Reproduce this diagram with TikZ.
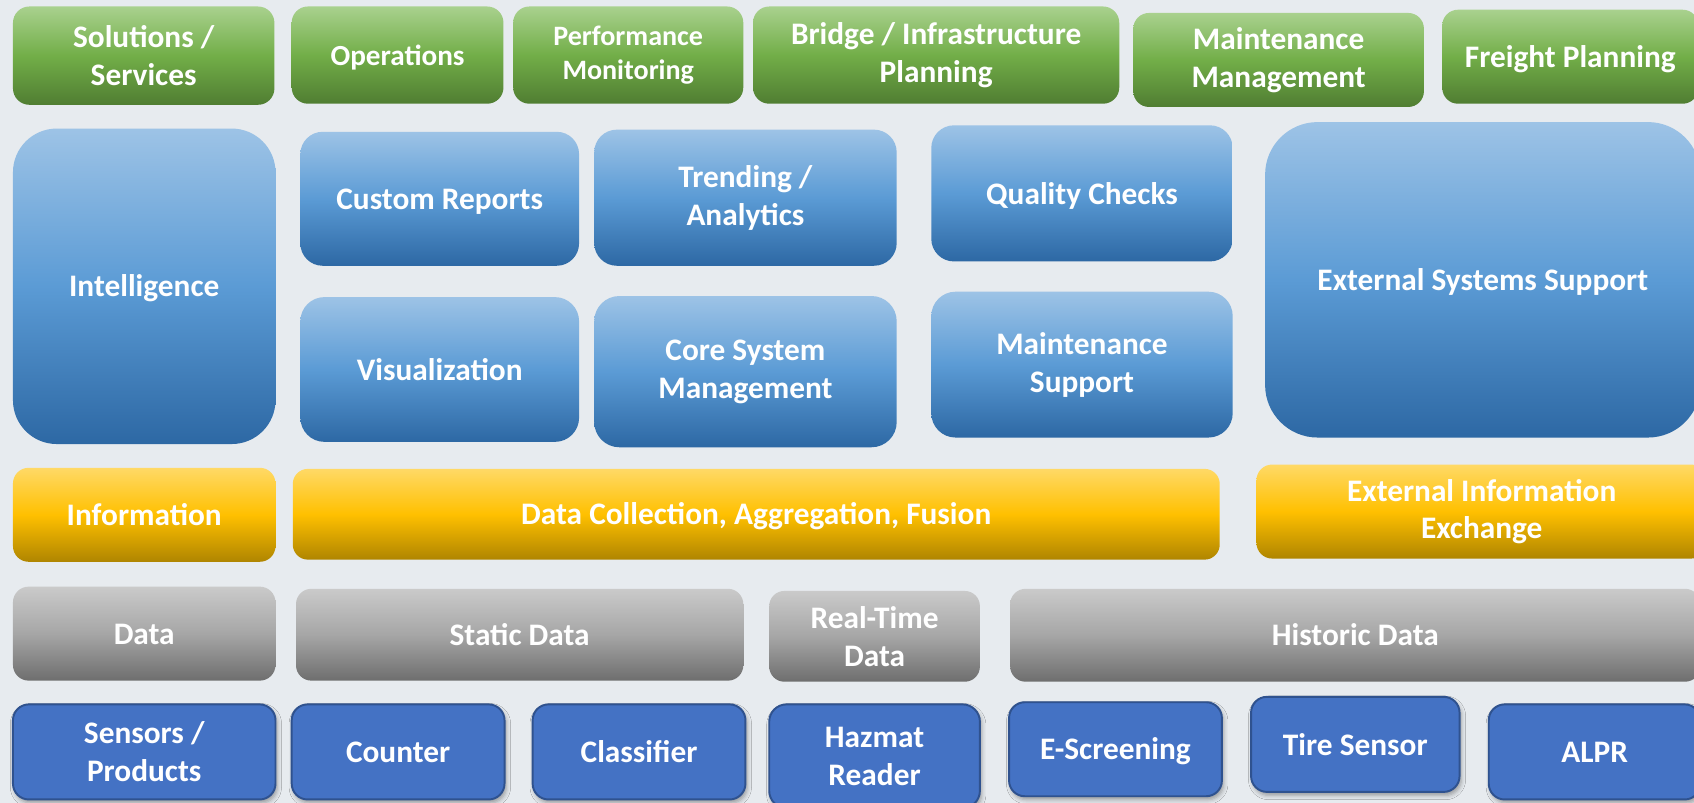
\documentclass[tikz,border=0pt]{standalone}
\usepackage{fontspec}
\setmainfont{Carlito}
\usepackage{tikz}
\usetikzlibrary{shadows.blur}

\definecolor{bgcol}{HTML}{E7EBEF}
\definecolor{grtop}{HTML}{A9D18E} \definecolor{grmid}{HTML}{72AE48} \definecolor{grbot}{HTML}{507D32}
\definecolor{bltop}{HTML}{9DC3E6} \definecolor{blmid}{HTML}{5B9BD5} \definecolor{blbot}{HTML}{2D68A4}
\definecolor{yetop}{HTML}{FFD966} \definecolor{yemid}{HTML}{FFC000} \definecolor{yebot}{HTML}{AF8500}
\definecolor{gytop}{HTML}{CACACA} \definecolor{gymid}{HTML}{A6A6A6} \definecolor{gybot}{HTML}{6E6E6E}
\definecolor{sensfill}{HTML}{4472C4} \definecolor{sensline}{HTML}{2F528F}

% full line height for one-line labels
\newcommand\linestrut{\rule[-0.27em]{0pt}{1.22em}}

\begin{document}
\begin{tikzpicture}[x=0.5pt,y=-0.5pt,
    blk/.style={inner sep=0pt, align=center, text=white, font=\bfseries\fontsize{14.5}{17.5}\selectfont},
    oneline/.style={execute at begin node=\linestrut, execute at end node=\linestrut},
    wh/.style 2 args={minimum width=#1*0.5pt, minimum height=#2*0.5pt, rounded corners={min(#1,#2)/12*1pt}},
    service/.style={blk, top color=grtop, bottom color=grbot, middle color=grmid},
    intel/.style={blk, top color=bltop, bottom color=blbot, middle color=blmid},
    infobox/.style={blk, top color=yetop, bottom color=yebot, middle color=yemid},
    databox/.style={blk, top color=gytop, bottom color=gybot, middle color=gymid},
    sensor/.style={blk, fill=sensfill, draw=sensline, line width=0.9pt,
        blur shadow={shadow xshift=0.8pt, shadow yshift=-1.6pt, shadow blur radius=2pt, shadow opacity=35}}]

    \path[use as bounding box, fill=bgcol] (0,0) rectangle (1568,743);
    \clip (0,0) rectangle (1568,743);

    \node[service, wh={242}{91}] (sol) at (133,51.5) {Solutions /\\Services};
    \node[service, oneline, wh={196}{90}, font=\bfseries\fontsize{13.5}{16}\selectfont] (ops) at (368,51) {Operations};
    \node[service, wh={213}{90}, font=\bfseries\fontsize{13}{16}\selectfont] (perf) at (581.5,51) {Performance\\Monitoring};
    \node[service, wh={339}{90}] (bridge) at (866.5,51) {Bridge / Infrastructure\\Planning};
    \node[service, wh={269}{87}] (maint) at (1183.5,55.5) {Maintenance\\Management};
    \node[service, oneline, wh={237}{87}] (freight) at (1453.5,52.5) {Freight Planning};

    \node[intel, oneline, wh={243}{292}] (intl) at (133.5,265) {Intelligence};
    \node[intel, oneline, wh={258}{124}] (custom) at (407,184) {Custom Reports};
    \node[intel, wh={280}{126}] (trend) at (690,183) {Trending /\\Analytics};
    \node[intel, oneline, wh={279}{126}] (quality) at (1001.5,179) {Quality Checks};
    \node[intel, oneline, wh={258}{134}] (visual) at (407,342) {Visualization};
    \node[intel, wh={280}{140}] (core) at (690,344) {Core System\\Management};
    \node[intel, wh={279}{135}] (mainsup) at (1001.5,337.5) {Maintenance\\Support};
    \node[intel, oneline, wh={403}{292}] (extsys) at (1372.5,259) {External Systems Support};

    \node[infobox, oneline, wh={243}{87}] (info) at (133.5,476.5) {Information};
    \node[infobox, oneline, wh={858}{84}] (collect) at (700,476) {Data Collection, Aggregation, Fusion};
    \node[infobox, wh={417}{87}] (extinfo) at (1371.5,473.5) {External Information\\Exchange};

    \node[databox, oneline, wh={243}{87}] (data) at (133.5,586.5) {Data};
    \node[databox, oneline, wh={414}{85}] (static) at (481,587.5) {Static Data};
    \node[databox, wh={195}{84}] (realtime) at (809.5,589) {Real-Time\\Data};
    \node[databox, oneline, wh={639}{86}] (historic) at (1254.5,588) {Historic Data};

    \node[sensor, wh={243}{88}] (sens) at (133.5,696) {Sensors /\\Products};
    \node[sensor, oneline, wh={197}{88}] (counter) at (368.5,696) {Counter};
    \node[sensor, oneline, wh={197}{88}] (classifier) at (591.5,696) {Classifier};
    \node[sensor, wh={195}{96}] (hazmat) at (809.5,700) {Hazmat\\Reader};
    \node[sensor, oneline, wh={197}{87}] (escreen) at (1032.5,693.5) {E-Screening};
    \node[sensor, oneline, wh={193}{88}] (tire) at (1254.5,689) {Tire Sensor};
    \node[sensor, oneline, wh={196}{88}] (alpr) at (1476,696) {ALPR};
\end{tikzpicture}
\end{document}
